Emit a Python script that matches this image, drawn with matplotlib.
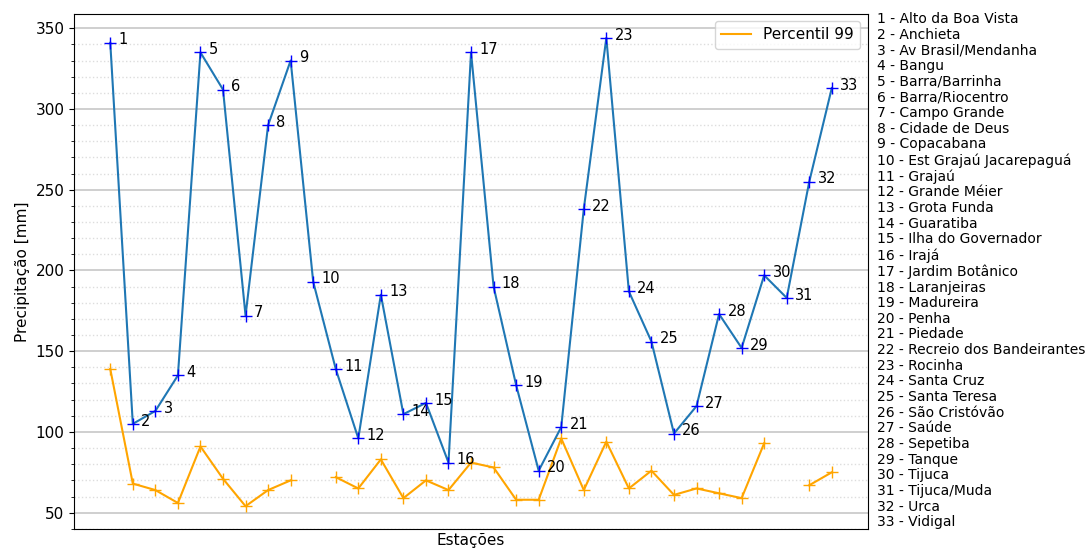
import numpy as np
import matplotlib.pyplot as plt
from matplotlib.ticker import MultipleLocator

estacoes = ["Alto da Boa Vista", "Anchieta", "Av Brasil/Mendanha", "Bangu",
            "Barra/Barrinha", "Barra/Riocentro", "Campo Grande", "Cidade de Deus",
            "Copacabana", "Est Grajaú Jacarepaguá", "Grajaú", "Grande Méier",
            "Grota Funda", "Guaratiba", "Ilha do Governador", "Irajá",
            "Jardim Botânico", "Laranjeiras", "Madureira", "Penha", "Piedade",
            "Recreio dos Bandeirantes", "Rocinha", "Santa Cruz", "Santa Teresa",
            "São Cristóvão", "Saúde", "Sepetiba", "Tanque", "Tijuca",
            "Tijuca/Muda", "Urca", "Vidigal"]

precip = [341, 105, 113, 135, 335, 312, 172, 290, 330, 193, 139, 96, 185, 111,
          118, 81, 335, 190, 129, 76, 103, 238, 344, 187, 156, 99, 116, 173,
          152, 197, 183, 255, 313]

p99 = [139, 68, 64, 56, 91, 71, 54, 64, 70, np.nan, 72, 65, 83, 59, 70, 64,
       81, 78, 58, 58, 96, 64, 94, 65, 76, 61, 65, 62, 59, 93, np.nan, 67, 75]

x = np.arange(len(estacoes))

fig = plt.figure(figsize=(10.91, 5.48), dpi=100)
ax = fig.add_axes([0.068, 0.035, 0.7275, 0.94])

# precipitação total por estação
ax.plot(x, precip, color='tab:blue', zorder=3)
ax.plot(x, precip, 'b+', markersize=8, zorder=4)
for i, v in enumerate(precip):
    ax.annotate(str(i + 1), (x[i], v), xytext=(6, 2), textcoords='offset points',
                fontsize=10.5, va='center')

# percentil 99
ax.plot(x, p99, color='orange', label='Percentil 99', zorder=2)
ax.plot(x, p99, '+', color='orange', markersize=8, zorder=2)

ax.set_ylim(40, 359)
ax.yaxis.set_major_locator(MultipleLocator(50))
ax.yaxis.set_minor_locator(MultipleLocator(10))
ax.grid(which='major', axis='y', color='#cccccc', linewidth=1.3)
ax.grid(which='minor', axis='y', color='#dddddd', linestyle=':', linewidth=1)
ax.set_xticks([])
ax.tick_params(labelsize=11)
ax.set_ylabel('Precipitação [mm]', fontsize=11)
ax.set_xlabel('Estações', fontsize=11, labelpad=3)
ax.legend(loc='upper right', fontsize=11)

lista = "\n".join(f"{i + 1} - {nome}" for i, nome in enumerate(estacoes))
fig.text(0.804, 0.506, lista, fontsize=10, va='center', ha='left', linespacing=1.15)

fig.savefig('out.png', dpi=100)
